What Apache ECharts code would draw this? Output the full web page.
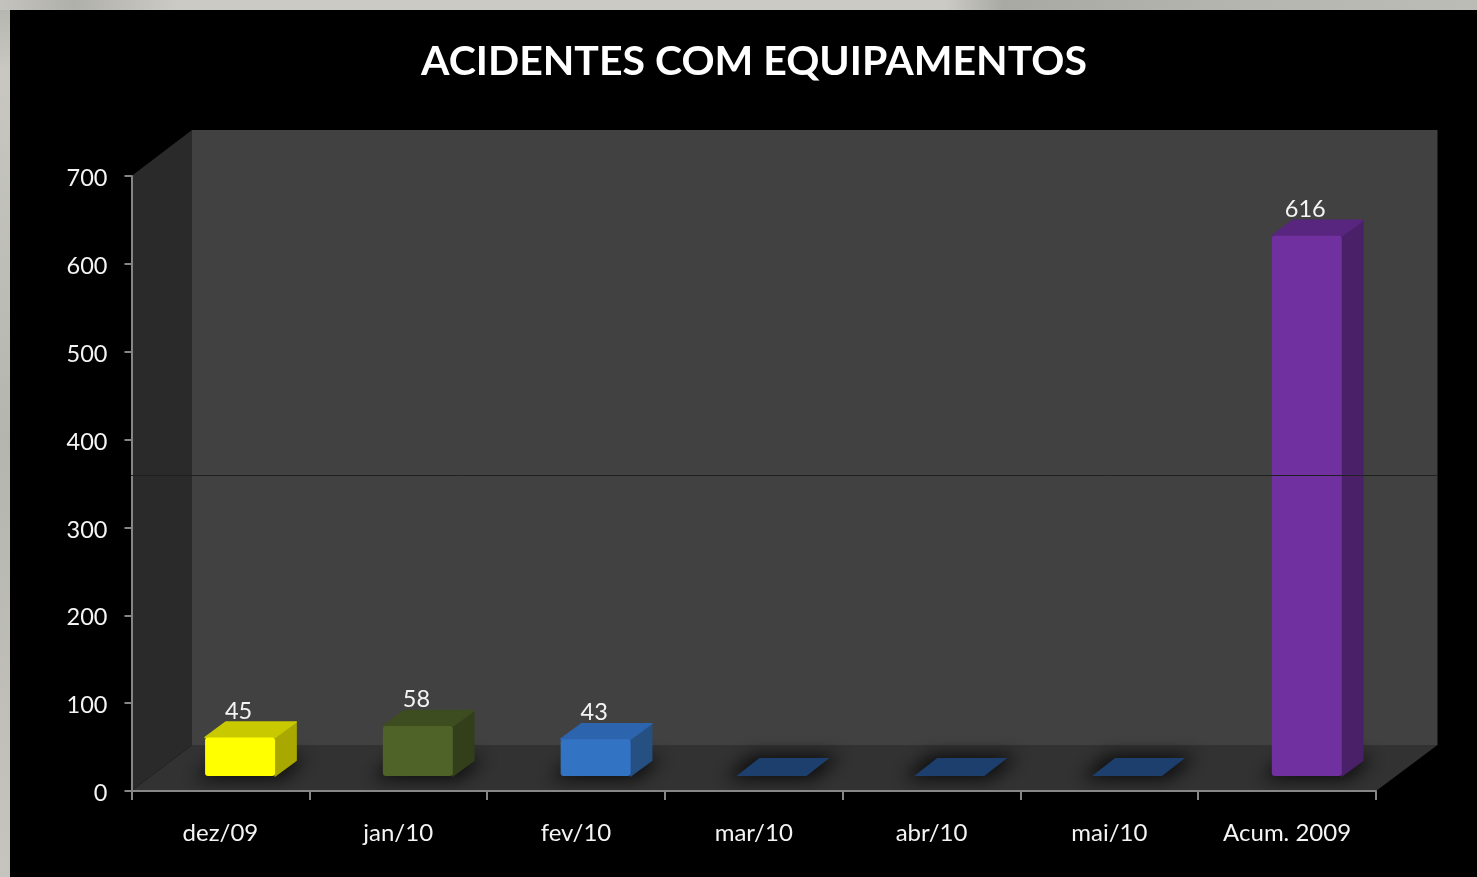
<!DOCTYPE html>
<html>
<head>
<meta charset="utf-8">
<title>Acidentes com equipamentos</title>
<style>
  html, body { margin: 0; padding: 0; background: #cbcac5; }
  #main { width: 1477px; height: 877px; }
</style>
<script src="https://cdn.jsdelivr.net/npm/echarts@6/dist/echarts.min.js"></script>
</head>
<body>
<div id="main"></div>
<script>
var categories = ['dez/09', 'jan/10', 'fev/10', 'mar/10', 'abr/10', 'mai/10', 'Acum. 2009'];
var values = [45, 58, 43, 0, 0, 0, 616];

// frente, topo, lateral de cada barra
var barColors = [
  ['#ffff00', '#c9c900', '#a8a800'],
  ['#4f6228', '#3e4d20', '#333f1b'],
  ['#3373c4', '#2c64ad', '#264f82'],
  ['#1c3f6e', '#1c3f6e', '#1c3f6e'],
  ['#1c3f6e', '#1c3f6e', '#1c3f6e'],
  ['#1c3f6e', '#1c3f6e', '#1c3f6e'],
  ['#7030a0', '#59267f', '#4a2069']
];

var myChart = echarts.init(document.getElementById('main'));

var WALL_DX = 60.5;
var WALL_DY = 46;
var BAR_W = 70;
var SHADOW_SHIFT = 3000; // desenha fora da tela, so a sombra borrada aparece

function renderWalls(params, api) {
  var band = api.size([1, 0])[0];
  var x0 = api.coord([0, 0])[0] - band / 2;
  var x1 = api.coord([categories.length - 1, 0])[0] + band / 2;
  var y0 = api.coord([0, 0])[1];
  var y1 = api.coord([0, 700])[1];
  return {
    type: 'group',
    children: [
      { type: 'polygon', shape: { points: [[x0, y0], [x1, y0], [x1 + WALL_DX + 1, y0 - WALL_DY], [x0 + WALL_DX, y0 - WALL_DY]] }, style: { fill: '#323232' } },
      { type: 'polygon', shape: { points: [[x0, y0], [x0 + WALL_DX, y0 - WALL_DY], [x0 + WALL_DX, y1 - WALL_DY], [x0, y1]] }, style: { fill: '#2a2a2a' } },
      { type: 'rect', shape: { x: x0 + WALL_DX, y: y1 - WALL_DY, width: x1 - x0 + 1, height: y0 - y1 }, style: { fill: '#414141' } }
    ]
  };
}

// polygon com cantos levemente arredondados
function face(points, fill) {
  return { type: 'polygon', shape: { points: points }, style: { fill: fill, stroke: fill, lineWidth: 1.5, lineJoin: 'round' } };
}

function renderBar(params, api) {
  var i = api.value(0);
  var val = api.value(1);
  var base = api.coord([i, 0]);
  var top = api.coord([i, val]);
  var c = barColors[i];
  var flat = val === 0;
  var dx = flat ? 23 : 21;
  var dy = flat ? 18 : 15.5;
  var l = base[0] + (flat ? 17.7 : 19.7) - BAR_W / 2;
  var r = l + BAR_W;
  var b = base[1] - 15;
  var t = top[1] - 15 + (val > 0 ? 1 : 0);
  var floorPts = [[l, b], [r, b], [r + dx, b - dy], [l + dx, b - dy]];
  // sombra difusa no piso, maior que a base da barra
  var shadowPts = [[l - 12, b + 3], [r + 6, b + 3], [r + dx + 12, b - dy - 3], [l + dx - 6, b - dy - 3]].map(function (p) {
    return [p[0] - SHADOW_SHIFT, p[1]];
  });
  var children = [
    {
      type: 'polygon',
      shape: { points: shadowPts },
      style: { fill: '#000', shadowBlur: 18, shadowColor: 'rgba(0,0,0,0.8)', shadowOffsetX: SHADOW_SHIFT, shadowOffsetY: 0 }
    }
  ];
  if (flat) {
    children.push({ type: 'polygon', shape: { points: floorPts }, style: { fill: c[0] } });
  } else {
    children.push(
      face([[r, t], [r + dx, t - dy], [r + dx, b - dy], [r, b]], c[2]),
      face([[l, t], [r, t], [r + dx, t - dy], [l + dx, t - dy]], c[1]),
      { type: 'rect', shape: { x: l, y: t, width: BAR_W, height: b - t, r: 3 }, style: { fill: c[0] } },
      {
        type: 'text',
        style: {
          x: (l + r) / 2 - 1.5,
          y: t - 26.5,
          text: String(val),
          fill: '#f4f4f4',
          font: '23.5px Lato',
          align: 'center',
          verticalAlign: 'middle'
        }
      }
    );
  }
  return { type: 'group', children: children };
}

var option = {
  backgroundColor: '#cbcac5',
  animation: false,
  title: {
    text: 'ACIDENTES COM EQUIPAMENTOS',
    left: 749,
    top: 36,
    textAlign: 'center',
    textStyle: { color: '#fff', fontFamily: 'Lato', fontWeight: 'bold', fontSize: 41 }
  },
  grid: { left: 131.5, right: 101, top: 176, bottom: 86 },
  xAxis: {
    type: 'category',
    data: categories,
    z: 5,
    axisLine: { lineStyle: { color: '#868686', width: 2 } },
    axisTick: { show: true, alignWithLabel: false, length: 9, lineStyle: { color: '#868686', width: 2 } },
    axisLabel: { color: '#f4f4f4', fontFamily: 'Lato', fontSize: 24, margin: 30, interval: 0 }
  },
  yAxis: {
    type: 'value',
    min: 0,
    max: 700,
    interval: 100,
    z: 5,
    splitLine: { show: false },
    axisLine: { show: true, lineStyle: { color: '#868686', width: 2 } },
    axisTick: { show: true, length: 7, lineStyle: { color: '#868686', width: 2 } },
    axisLabel: {
      margin: 24,
      formatter: '{a|{value}}',
      rich: { a: { color: '#f4f4f4', fontFamily: 'Lato', fontSize: 23.5, padding: [5, 0, 0, 0] } }
    }
  },
  series: [
    { type: 'custom', name: 'walls', z: 1, silent: true, renderItem: renderWalls, data: [[0, 0]], encode: { x: 0, y: 1 } },
    {
      type: 'custom',
      name: 'acidentes',
      z: 3,
      renderItem: renderBar,
      data: values.map(function (v, i) { return [i, v]; }),
      encode: { x: 0, y: 1 }
    }
  ],
  graphic: [
    // fundo preto do slide e textura da pedra na borda
    { type: 'rect', z: -10, shape: { x: 10, y: 10, width: 1467, height: 867 }, style: { fill: '#000' } },
    { type: 'rect', z: -11, shape: { x: 0, y: 0, width: 10, height: 877 }, style: { fill: { type: 'linear', x: 0, y: 0, x2: 0, y2: 1, colorStops: [{ offset: 0, color: '#b4b4ae' }, { offset: 0.08, color: '#c8c7c2' }, { offset: 0.5, color: '#b5b5af' }, { offset: 0.8, color: '#bfbeb9' }, { offset: 1, color: '#c5c4bf' }] } } },
    { type: 'rect', z: -11, shape: { x: 0, y: 0, width: 1477, height: 10 }, style: { fill: { type: 'linear', x: 0, y: 0, x2: 1, y2: 0, colorStops: [{ offset: 0, color: '#c4c3be' }, { offset: 0.05, color: '#b0b0aa' }, { offset: 0.12, color: '#cbcac5' }, { offset: 0.64, color: '#cbcac5' }, { offset: 0.68, color: '#a9a9a3' }, { offset: 0.85, color: '#b6b6b0' }, { offset: 1, color: '#bcbcb6' }] } } },
    // linha horizontal fina que cruza o grafico
    { type: 'line', z: 20, shape: { x1: 131, y1: 475.5, x2: 1437, y2: 475.5 }, style: { stroke: '#202020', lineWidth: 1 } }
  ]
};

myChart.setOption(option);
</script>
</body>
</html>
